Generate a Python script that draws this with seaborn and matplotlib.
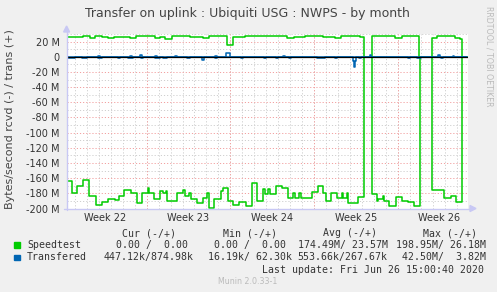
import numpy as np
import pandas as pd
import matplotlib
matplotlib.use("Agg")
import matplotlib.pyplot as plt
from matplotlib.ticker import MultipleLocator, FixedLocator, FuncFormatter
from matplotlib.patches import Rectangle, Polygon
from matplotlib.lines import Line2D
import seaborn as sns

# ---------------- data (days since start of week 22, values in MB/s) ----------------
speed_rcvd_t = [0.31, 0.73, 1.20, 1.70, 2.20, 2.74, 3.24, 3.77, 4.35, 4.69, 5.10, 5.69, 6.17, 6.64,
                7.09, 7.22, 7.62, 8.12, 8.39, 8.62, 8.73, 9.56, 10.07, 10.21, 10.57, 10.69, 11.24,
                11.69, 12.08, 12.24, 12.64, 13.19, 13.36, 13.83, 14.25, 14.75, 15.31, 15.79, 16.21,
                16.76, 16.90, 17.18, 17.32, 17.80, 18.30, 18.80, 19.27, 19.41, 19.77, 19.92, 20.86,
                21.31, 21.78, 22.01, 22.40, 22.90, 23.32, 23.40, 23.74, 23.87, 24.71, 25.23, 25.83,
                26.30, 26.39, 26.80, 26.89, 27.31, 27.87, 28.39, 28.90, 29.37, 29.87, 30.85, 31.88,
                32.44, 32.89, 33.36, 33.80]
speed_rcvd_v = [-164, -179, -171, -163, -184, -196, -192, -188, -189, -183, -175, -180, -193, -179,
                -173, -179, -188, -177, -180, -177, -190, -180, -176, -183, -179, -188, -193,
                -186, -179, -199, -188, -177, -173, -190, -196, -192, -197, -166, -190,
                -174, -181, -174, -181, -171, -173, -186, -179, -186, -179, -186, -178,
                -170, -180, -190, -180, -186, -180, -186, -180, -193, -185, 0, -181,
                -190, -188, -183, -190, -197, -185, -190, -192, -197, 0, -176, -186,
                -184, -191, 0, 0]

speed_trans_t = [0.31, 1.67, 2.26, 2.68, 3.26, 3.77, 4.27, 5.61, 6.11, 7.70, 8.12, 8.54, 9.12,
                 10.63, 11.72, 12.22, 13.72, 14.23, 15.23, 18.74, 19.33, 19.67, 20.25, 21.76,
                 22.76, 23.26, 23.87, 24.87, 25.23, 25.83, 27.78, 28.34, 29.80, 30.85, 31.27,
                 32.80, 33.22, 33.36, 33.80]
speed_trans_v = [26, 27.3, 24.2, 27.3, 26, 24.2, 25.5, 24.5, 27, 24.2, 25.5, 23, 27,
                 26, 25, 27, 15.8, 26.5, 27, 24.2, 26, 25.5, 27, 25.5,
                 24.2, 27, 27, 25.5, 0, 27, 24.7, 27, 0, 25, 27,
                 24.7, 23.5, 0, 0]

xfer_rcvd_t = [0.31, 0.42, 1.0, 1.56, 1.98, 2.93, 3.24, 4.6, 4.77, 5.44, 5.86, 6.5, 6.7, 7.7, 8.1,
               8.37, 8.7, 10.35, 10.63, 11.6, 11.8, 12.7, 12.85, 14.9, 15.05, 16.85, 17.0, 17.85,
               18.0, 18.95, 19.1, 21.25, 21.9, 22.76, 22.9, 24.25, 24.35, 24.45, 24.55, 24.78,
               24.9, 28.9, 29.05, 29.6, 30.0, 31.6, 31.8, 33.80]
xfer_rcvd_v = [-0.1, -1.5, -0.1, -1.5, -0.1, -1.5, -0.1, -1.2, -0.1, -1.5, -0.1, -2.0, -0.1, -1.5,
               -0.1, -1.5, -0.1, -1.2, -0.1, -4.0, -0.1, -1.5, -0.1, -1.2, -0.1, -1.2, -0.1, -1.2,
               -0.1, -1.2, -0.1, -1.5, -0.1, -1.5, -0.1, -6.0, -14.0, -6.0, -0.1, -1.2,
               -0.1, -1.5, -0.1, -1.5, -0.1, -2.0, -0.1, -0.1]

xfer_trans_t = [0.31, 2.93, 3.1, 5.6, 5.8, 6.44, 6.6, 7.7, 7.9, 9.37, 9.5, 12.72, 12.85, 13.6,
                13.97, 18.43, 18.55, 25.69, 25.8, 31.38, 31.55, 32.64, 32.75, 33.80]
xfer_trans_v = [0.1, 1.5, 0.1, 1.2, 0.1, 2.3, 0.1, 1.5, 0.1, 1.2, 0.1, 1.2, 0.1, 5.0,
                0.1, 1.5, 0.1, 2.0, 0.1, 2.0, 0.1, 1.2, 0.1, 0.1]

week_starts = [0, 7, 14, 21, 28]
week_centers = [3.5, 10.5, 17.5, 24.5, 31.5]
week_labels = ["Week 22", "Week 23", "Week 24", "Week 25", "Week 26"]

legend_header = ["Cur (-/+)", "Min (-/+)", "Avg (-/+)", "Max (-/+)"]
legend_names = ["Speedtest", "Transfered"]
legend_rows = [["  0.00 /  0.00 ", "  0.00 /  0.00 ", "174.49M/ 23.57M", "198.95M/ 26.18M"],
               ["447.12k/874.98k", " 16.19k/ 62.30k", "553.66k/267.67k", " 42.50M/  3.82M"]]
legend_colors = ["#00CC00", "#0066B3"]
last_update = "Last update: Fri Jun 26 15:00:40 2020"

# ---------------- figure ----------------
W, H = 497, 292
sns.set_style("white")
plt.rcParams["font.family"] = ["DejaVu Sans"]
plt.rcParams["axes.unicode_minus"] = False

fig = plt.figure(figsize=(W / 100, H / 100), dpi=100, facecolor="#F0F0F0")

def fx(x):
    return x / W

def fy(y):
    return 1 - y / H

x_left, x_right = 66.6, 467.5
y_top, y_bot = 34.0, 208.5
ax = fig.add_axes([fx(x_left), fy(y_bot), fx(x_right) - fx(x_left), fy(y_top) - fy(y_bot)])
ax.set_facecolor("white")
ax.set_xlim(0.3, 33.85)
ax.set_ylim(-200, 30)

for s in ax.spines.values():
    s.set_visible(False)

text_col = "#333333"
# grids
ax.yaxis.set_major_locator(MultipleLocator(20))
ax.yaxis.set_minor_locator(MultipleLocator(10))
ax.xaxis.set_major_locator(FixedLocator(week_centers))
ax.xaxis.set_minor_locator(MultipleLocator(1))
ax.set_xticklabels(week_labels)
ax.yaxis.set_major_formatter(FuncFormatter(lambda v, p: "0" if abs(v) < 1e-9 else f"{int(round(v))} M"))
ax.tick_params(axis="both", which="both", length=0, labelsize=7, colors=text_col)
ax.tick_params(axis="y", pad=5)
ax.tick_params(axis="x", pad=3)

minor_kw = dict(color="#CFCFCF", linewidth=0.7, linestyle=(0, (1.2, 2.0)))
major_kw = dict(color="#F2A0A0", linewidth=0.7, linestyle=(0, (1.2, 2.0)))
ax.yaxis.grid(True, which="minor", **minor_kw)
ax.xaxis.grid(True, which="minor", **minor_kw)
ax.yaxis.grid(True, which="major", **major_kw)
ax.xaxis.grid(False, which="major")
for ws in week_starts:
    ax.axvline(ws, zorder=1, **major_kw)
ax.set_axisbelow(True)

def series(t, v):
    return pd.DataFrame({"day": t, "val": v})

lw = 1.1
sns.lineplot(data=series(speed_rcvd_t, speed_rcvd_v), x="day", y="val", ax=ax,
             color=legend_colors[0], drawstyle="steps-post", linewidth=lw, estimator=None, zorder=3)
sns.lineplot(data=series(speed_trans_t, speed_trans_v), x="day", y="val", ax=ax,
             color=legend_colors[0], drawstyle="steps-post", linewidth=lw, estimator=None, zorder=3)
sns.lineplot(data=series(xfer_rcvd_t, xfer_rcvd_v), x="day", y="val", ax=ax,
             color=legend_colors[1], drawstyle="steps-post", linewidth=lw, estimator=None, zorder=4)
sns.lineplot(data=series(xfer_trans_t, xfer_trans_v), x="day", y="val", ax=ax,
             color=legend_colors[1], drawstyle="steps-post", linewidth=lw, estimator=None, zorder=4)
ax.axhline(0, color="black", linewidth=0.9, zorder=6)
ax.set_xlabel("")
ax.set_ylabel("")

# axis lines with arrows (figure coords)
axis_col = "#C8C8F4"
fig.add_artist(Line2D([fx(x_left), fx(x_left)], [fy(y_bot + 1), fy(31)], color=axis_col, lw=1.0,
                      transform=fig.transFigure))
fig.add_artist(Polygon([[fx(x_left - 3), fy(32)], [fx(x_left + 3), fy(32)], [fx(x_left), fy(26)]],
                       closed=True, color=axis_col, transform=fig.transFigure))
fig.add_artist(Line2D([fx(x_left - 3), fx(471)], [fy(y_bot), fy(y_bot)], color=axis_col, lw=1.0,
                      transform=fig.transFigure))
fig.add_artist(Polygon([[fx(470), fy(y_bot - 3)], [fx(470), fy(y_bot + 3)], [fx(476), fy(y_bot)]],
                       closed=True, color=axis_col, transform=fig.transFigure))

# title and labels
fig.text(fx(247.5), fy(14), "Transfer on uplink : Ubiquiti USG : NWPS - by month",
         ha="center", va="center", fontsize=9, color="#444444")
fig.text(fx(10.5), fy(119), "Bytes/second rcvd (-) / trans (+)", rotation=90,
         ha="center", va="center", fontsize=8, color="#444444")
fig.text(fx(489), fy(56), "RRDTOOL / TOBI OETIKER", rotation=270,
         ha="center", va="center", fontsize=5.7, color="#BBBBBB")

# legend block (monospace)
mono = "DejaVu Sans Mono"
ms = 7.1
hdr_x = [121.7, 222.7, 322.7, 423.3]
col_x = [104.0, 201.5, 297.7, 396.0]
for hx, h in zip(hdr_x, legend_header):
    fig.text(fx(hx), fy(233), h, ha="left", va="center", fontsize=ms, family=mono, color=text_col)
for i, (name, row, colr) in enumerate(zip(legend_names, legend_rows, legend_colors)):
    yy = 245 + i * 12.3
    fig.add_artist(Rectangle((fx(14), fy(yy + 2.7)), fx(5.5), fy(0) - fy(5.5), color=colr,
                             transform=fig.transFigure))
    fig.text(fx(27), fy(yy), name, ha="left", va="center", fontsize=ms, family=mono, color=text_col)
    for cx, val in zip(col_x, row):
        fig.text(fx(cx), fy(yy), val, ha="left", va="center", fontsize=ms, family=mono, color=text_col)
fig.text(fx(483.5), fy(270), last_update, ha="right", va="center", fontsize=ms, family=mono,
         color=text_col)
fig.text(fx(248), fy(281), "Munin 2.0.33-1", ha="center", va="center", fontsize=5.7, color="#BBBBBB")

fig.savefig("out.png", dpi=100, facecolor=fig.get_facecolor())
